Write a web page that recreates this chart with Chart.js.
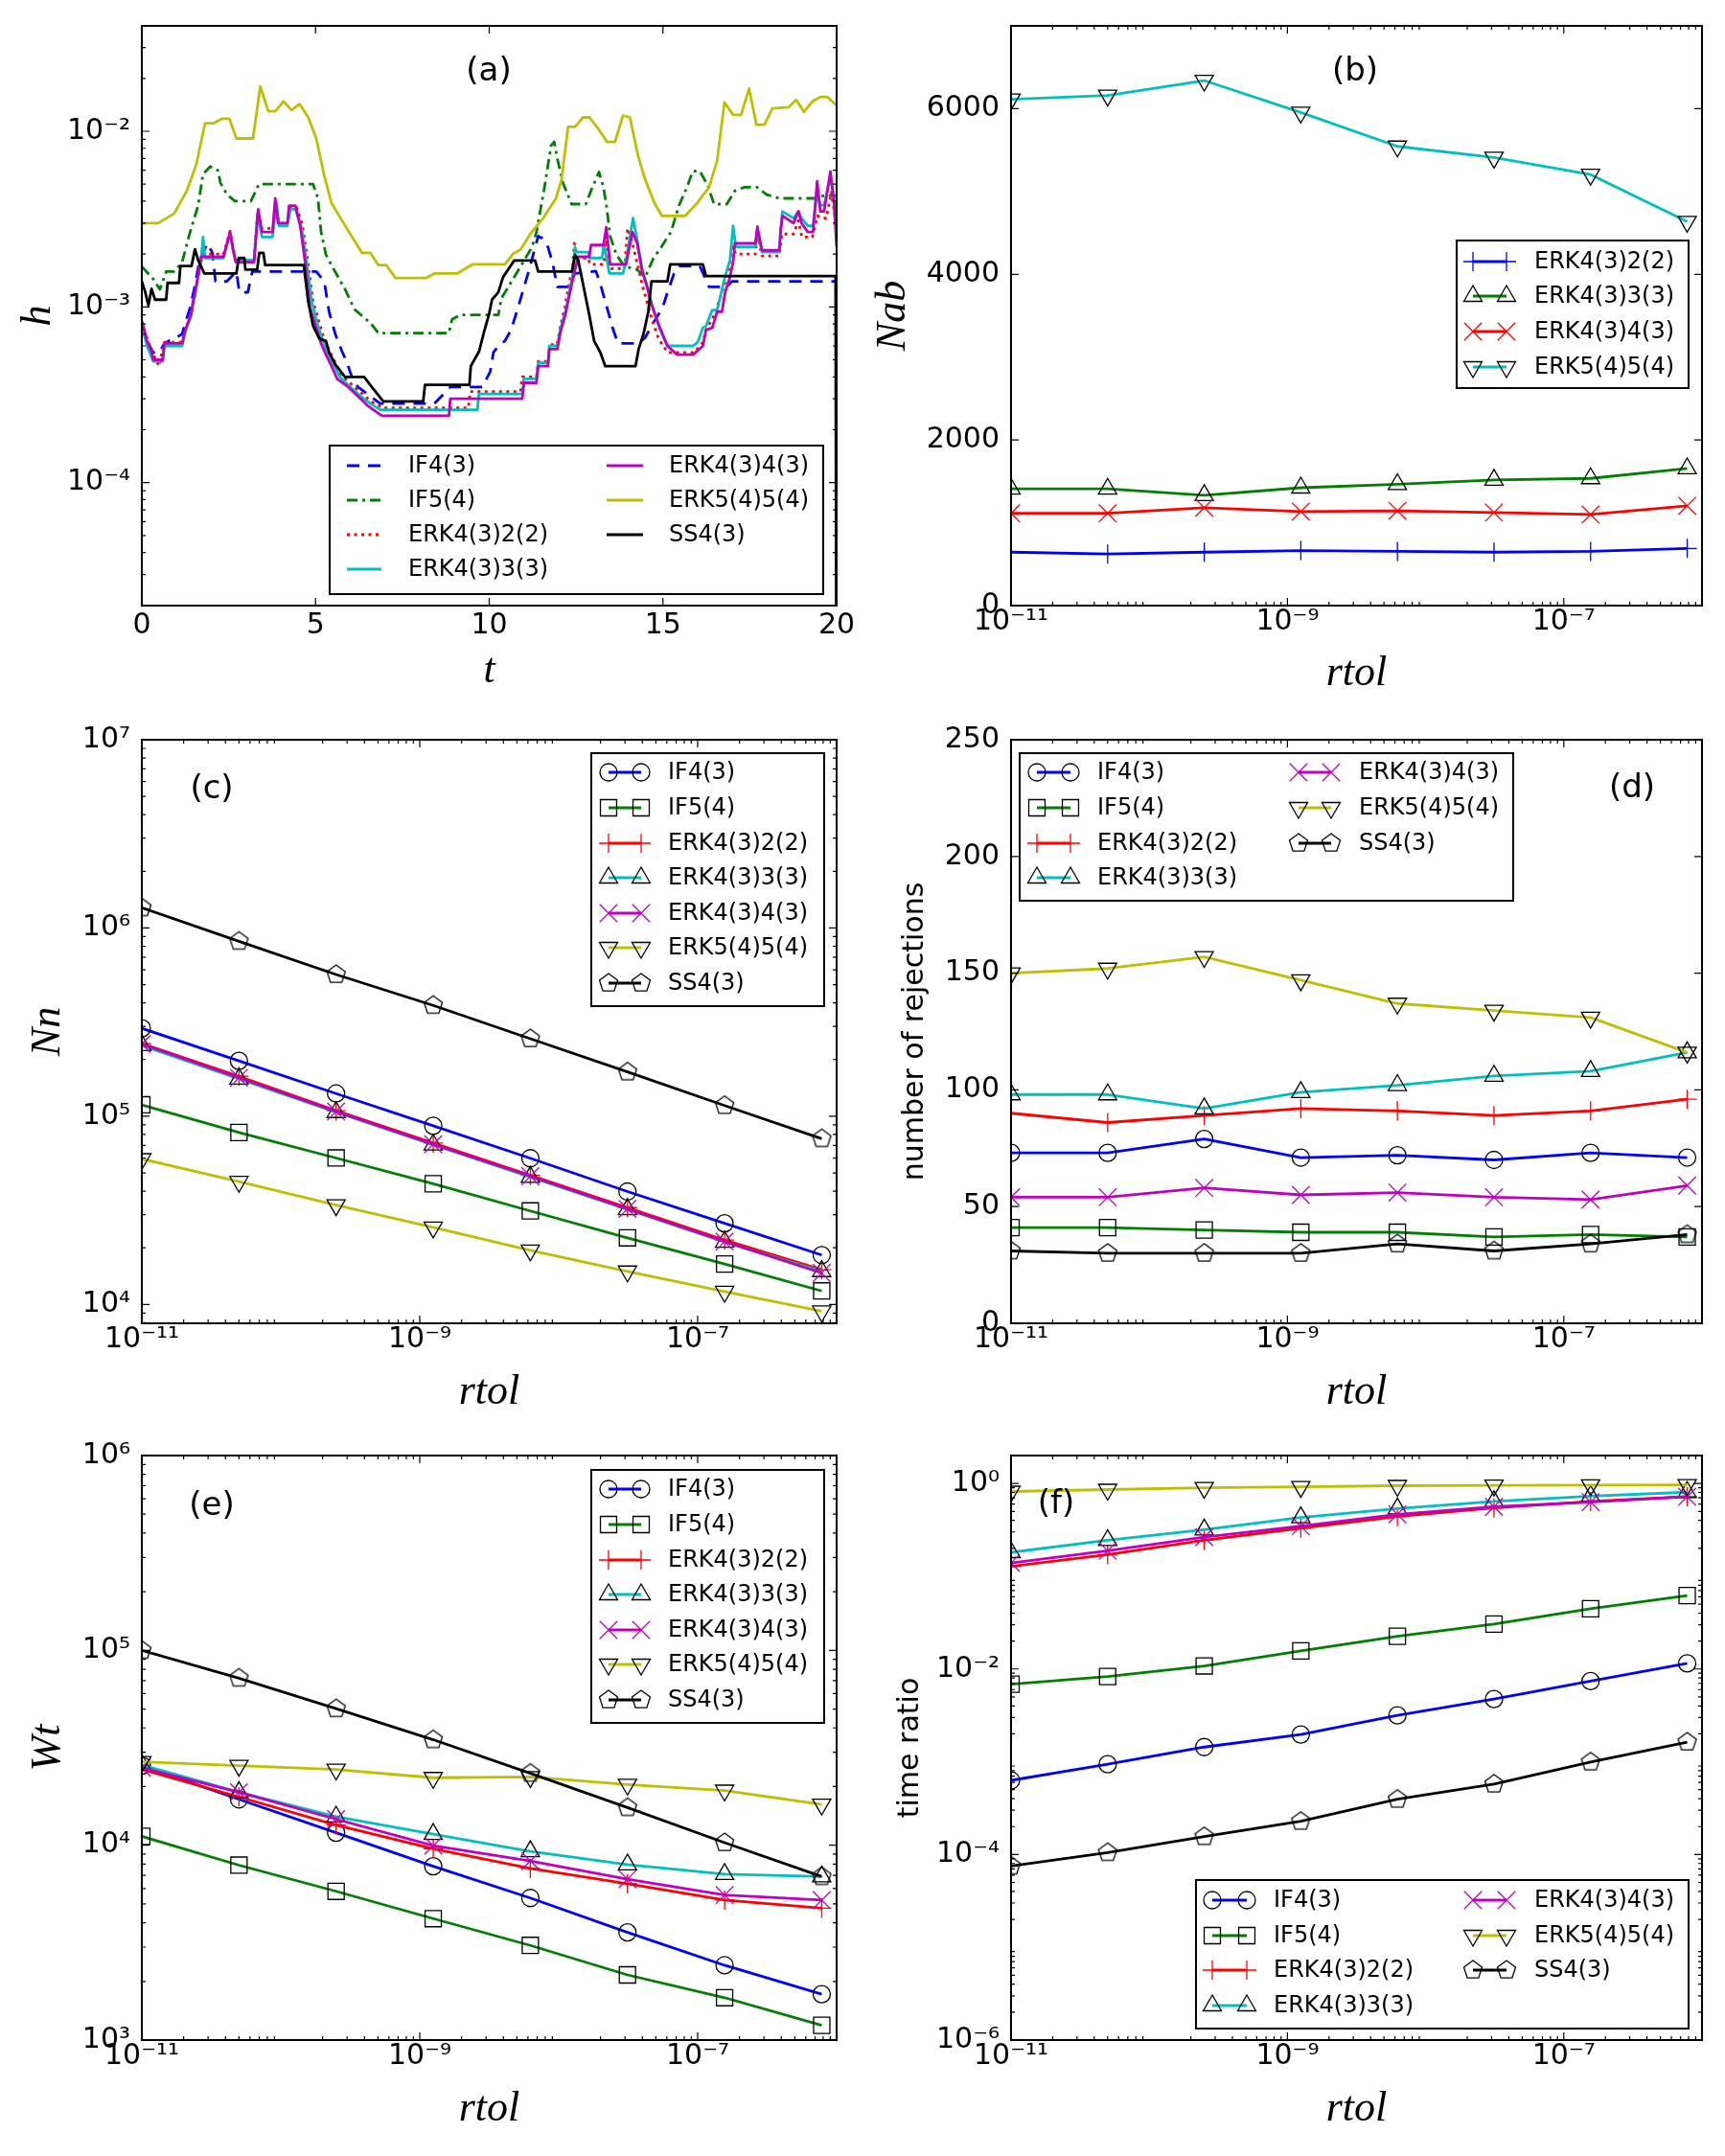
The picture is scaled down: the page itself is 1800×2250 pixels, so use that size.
<!DOCTYPE html>
<html><head><meta charset="utf-8">
<script src="https://cdn.jsdelivr.net/npm/chart.js@4.4.1/dist/chart.umd.min.js"></script>
<style>
html,body{margin:0;padding:0;background:#fff;}
body{width:1800px;height:2250px;position:relative;overflow:hidden;}
.cw{position:absolute;}
canvas{display:block;}
</style></head><body>
<div class="cw"><canvas id="ca"></canvas></div>
<div class="cw"><canvas id="cb"></canvas></div>
<div class="cw"><canvas id="cc"></canvas></div>
<div class="cw"><canvas id="cd"></canvas></div>
<div class="cw"><canvas id="ce"></canvas></div>
<div class="cw"><canvas id="cf"></canvas></div>
<script>
// ---------------- DATA ----------------
const methods = ['IF4(3)','IF5(4)','ERK4(3)2(2)','ERK4(3)3(3)','ERK4(3)4(3)','ERK5(4)5(4)','SS4(3)'];
const rtol = [1e-11, 5e-11, 2.5e-10, 1.25e-9, 6.25e-9, 3.125e-8, 1.5625e-7, 7.8125e-7];

// panel (a): step size h versus t, [t, h]
const hIF4 = [[0,8.1e-4],[0.15,6.4e-4],[0.33,5.5e-4],[0.5,5.5e-4],[0.65,6.2e-4],[1.16,7.0e-4],[1.25,8.1e-4],[1.39,9.9e-4],[1.53,1.33e-3],[1.66,1.84e-3],[1.89,2.3e-3],[2.03,2.03e-3],[2.12,1.4e-3],[2.45,1.4e-3],[2.72,1.59e-3],[2.81,1.21e-3],[3.05,1.21e-3],[3.18,1.59e-3],[5.02,1.59e-3],[5.25,1.4e-3],[5.39,9.4e-4],[5.57,7.0e-4],[5.76,5.6e-4],[5.90,4.85e-4],[6.03,4.08e-4],[6.22,3.5e-4],[6.49,3.2e-4],[6.86,2.82e-4],[8.42,2.82e-4],[8.88,3.5e-4],[9.80,3.5e-4],[10.03,4.3e-4],[10.12,5.5e-4],[10.26,6.0e-4],[10.45,6.4e-4],[10.63,7.4e-4],[10.86,1.04e-3],[11.05,1.4e-3],[11.18,1.71e-3],[11.32,2.19e-3],[11.41,2.53e-3],[11.55,2.45e-3],[11.69,2.19e-3],[11.82,1.8e-3],[11.96,1.3e-3],[12.28,1.3e-3],[12.47,1.55e-3],[13.07,1.6e-3],[13.20,1.35e-3],[13.39,9.9e-4],[13.57,7.4e-4],[13.71,6.2e-4],[14.30,6.2e-4],[14.49,6.7e-4],[14.72,8.1e-4],[14.99,9.9e-4],[15.13,1.21e-3],[15.32,1.55e-3],[15.46,1.71e-3],[16.06,1.71e-3],[16.19,1.5e-3],[16.33,1.3e-3],[16.84,1.3e-3],[16.98,1.4e-3],[20,1.4e-3]];
const hIF5 = [[0,1.7e-3],[0.33,1.44e-3],[0.52,1.26e-3],[0.70,1.59e-3],[0.93,1.59e-3],[1.16,1.8e-3],[1.39,2.67e-3],[1.62,3.77e-3],[1.76,5.7e-3],[1.97,6.3e-3],[2.19,6.0e-3],[2.26,5.1e-3],[2.45,4.36e-3],[2.68,4.0e-3],[3.14,4.0e-3],[3.37,5.0e-3],[4.93,5.0e-3],[5.07,4.15e-3],[5.16,2.67e-3],[5.30,1.98e-3],[5.53,1.63e-3],[5.85,1.26e-3],[6.12,9.7e-4],[6.58,8.1e-4],[6.81,7.1e-4],[8.84,7.1e-4],[8.93,8.5e-4],[9.16,9.0e-4],[10.26,9.0e-4],[10.35,1.12e-3],[10.58,1.33e-3],[10.91,1.71e-3],[11.23,2.19e-3],[11.36,2.67e-3],[11.59,4.8e-3],[11.78,8.3e-3],[11.87,8.7e-3],[11.96,7.0e-3],[12.12,5.1e-3],[12.37,3.85e-3],[12.78,3.85e-3],[12.97,4.8e-3],[13.16,5.86e-3],[13.29,4.8e-3],[13.39,3.58e-3],[13.48,2.53e-3],[13.66,1.98e-3],[13.89,1.71e-3],[14.26,1.63e-3],[14.49,1.48e-3],[14.72,1.88e-3],[14.95,2.19e-3],[15.23,2.67e-3],[15.46,3.77e-3],[15.69,4.8e-3],[15.86,5.93e-3],[16.06,5.93e-3],[16.29,4.93e-3],[16.47,3.85e-3],[16.84,3.85e-3],[17.07,4.58e-3],[17.34,4.8e-3],[17.71,4.8e-3],[17.99,4.36e-3],[18.35,4.15e-3],[19.36,4.15e-3],[19.64,4.3e-3],[20,4.3e-3]];
const hERK422 = [[0,8.2e-4],[0.2,6.2e-4],[0.4,5.0e-4],[0.5,4.6e-4],[0.55,5.2e-4],[0.65,6.3e-4],[1.16,6.3e-4],[1.3,7.8e-4],[1.45,9.5e-4],[1.6,1.4e-3],[1.75,2.0e-3],[2.35,2.0e-3],[2.54,2.7e-3],[2.7,1.85e-3],[3.23,1.85e-3],[3.33,3.5e-3],[3.45,2.8e-3],[3.78,2.8e-3],[3.86,4.0e-3],[3.95,3.0e-3],[4.19,3.0e-3],[4.26,3.7e-3],[4.45,3.7e-3],[4.62,2.95e-3],[4.78,1.8e-3],[4.92,1.1e-3],[5.1,8.2e-4],[5.25,6.6e-4],[5.4,5.6e-4],[5.55,4.9e-4],[5.75,4.1e-4],[6.05,3.6e-4],[6.35,3.2e-4],[6.6,2.9e-4],[6.95,2.66e-4],[9.4,2.66e-4],[9.45,3.3e-4],[10.9,3.3e-4],[10.95,4.0e-4],[11.36,4.0e-4],[11.41,4.9e-4],[11.69,4.9e-4],[11.75,6.1e-4],[11.95,6.1e-4],[12.05,7.8e-4],[12.18,1.0e-3],[12.28,1.3e-3],[12.4,1.7e-3],[12.45,2.3e-3],[12.55,1.9e-3],[12.85,1.9e-3],[12.9,1.75e-3],[13.3,1.75e-3],[13.37,2.4e-3],[13.48,1.65e-3],[13.9,1.65e-3],[13.98,2.8e-3],[14.1,2.4e-3],[14.25,1.8e-3],[14.4,1.35e-3],[14.55,1.05e-3],[14.7,8.3e-4],[14.85,6.8e-4],[15.0,6.0e-4],[15.15,5.5e-4],[15.9,5.5e-4],[16.15,6.3e-4],[16.25,7.5e-4],[16.42,8.5e-4],[16.56,1.0e-3],[16.75,1.3e-3],[16.9,1.65e-3],[17.0,2.2e-3],[17.1,2.0e-3],[17.66,2.0e-3],[17.72,2.6e-3],[17.85,1.95e-3],[18.35,1.95e-3],[18.42,2.6e-3],[18.76,2.6e-3],[18.9,3.1e-3],[19.0,2.5e-3],[19.3,2.5e-3],[19.45,3.3e-3],[19.55,3.2e-3],[19.7,3.2e-3],[19.85,4.5e-3],[19.93,3.5e-3],[20,2.6e-3]];
const hERK433 = [[0,7.8e-4],[0.15,6.0e-4],[0.33,4.9e-4],[0.60,4.9e-4],[0.65,6.0e-4],[1.16,6.0e-4],[1.25,7.2e-4],[1.41,8.8e-4],[1.57,1.3e-3],[1.71,1.9e-3],[1.76,2.5e-3],[1.82,1.9e-3],[2.35,1.9e-3],[2.54,2.6e-3],[2.63,2.1e-3],[2.70,1.85e-3],[3.23,1.85e-3],[3.33,3.4e-3],[3.46,2.5e-3],[3.76,2.5e-3],[3.88,3.9e-3],[3.95,2.9e-3],[4.19,2.9e-3],[4.28,3.6e-3],[4.42,3.6e-3],[4.60,2.8e-3],[4.75,1.75e-3],[4.90,1.05e-3],[5.07,7.8e-4],[5.22,6.4e-4],[5.35,5.5e-4],[5.50,4.8e-4],[5.70,4.0e-4],[6.0,3.5e-4],[6.3,3.1e-4],[6.6,2.8e-4],[6.86,2.6e-4],[9.66,2.6e-4],[9.70,3.2e-4],[10.95,3.2e-4],[11.0,3.9e-4],[11.36,3.9e-4],[11.41,4.8e-4],[11.69,4.8e-4],[11.73,6.0e-4],[11.96,6.0e-4],[12.05,7.5e-4],[12.2,9.5e-4],[12.3,1.2e-3],[12.42,1.6e-3],[12.47,2.2e-3],[12.5,2.05e-3],[12.85,2.05e-3],[12.89,1.9e-3],[13.25,1.9e-3],[13.30,2.3e-3],[13.46,1.55e-3],[13.85,1.55e-3],[13.95,1.9e-3],[14.14,3.2e-3],[14.26,2.4e-3],[14.40,1.65e-3],[14.55,1.3e-3],[14.70,1.0e-3],[14.86,8.0e-4],[15.0,6.8e-4],[15.13,6.0e-4],[15.87,6.0e-4],[16.0,6.3e-4],[16.15,7.6e-4],[16.24,7.8e-4],[16.42,9.6e-4],[16.56,9.6e-4],[16.70,1.25e-3],[16.79,1.5e-3],[16.93,1.85e-3],[17.02,2.9e-3],[17.1,2.2e-3],[17.66,2.2e-3],[17.72,2.75e-3],[17.85,2.05e-3],[18.35,2.05e-3],[18.39,2.8e-3],[18.44,3.5e-3],[18.76,3.2e-3],[18.90,3.5e-3],[18.99,3.2e-3],[19.17,2.9e-3],[19.32,2.9e-3],[19.44,4.5e-3],[19.53,3.8e-3],[19.64,3.8e-3],[19.82,5.5e-3],[19.92,4.2e-3],[20,2.6e-3]];
const hERK443 = [[0,8.35e-4],[0.15,6.4e-4],[0.28,5.6e-4],[0.33,5.0e-4],[0.60,5.0e-4],[0.65,6.2e-4],[1.16,6.2e-4],[1.25,7.4e-4],[1.41,9.0e-4],[1.47,1.07e-3],[1.57,1.33e-3],[1.71,1.93e-3],[2.35,1.93e-3],[2.54,2.67e-3],[2.63,2.1e-3],[2.70,1.8e-3],[3.23,1.8e-3],[3.35,3.6e-3],[3.46,2.67e-3],[3.76,2.67e-3],[3.84,4.15e-3],[3.92,3.0e-3],[4.19,3.0e-3],[4.24,3.77e-3],[4.42,3.77e-3],[4.56,2.9e-3],[4.70,1.8e-3],[4.84,9.9e-4],[5.02,7.6e-4],[5.16,6.2e-4],[5.30,5.35e-4],[5.44,4.7e-4],[5.62,3.9e-4],[5.94,3.5e-4],[6.22,3.1e-4],[6.49,2.75e-4],[6.91,2.4e-4],[8.84,2.4e-4],[8.88,3.0e-4],[10.95,3.0e-4],[11.0,3.7e-4],[11.36,3.7e-4],[11.41,4.6e-4],[11.69,4.6e-4],[11.73,5.75e-4],[11.96,5.75e-4],[12.05,7.2e-4],[12.19,9.0e-4],[12.28,1.1e-3],[12.42,1.48e-3],[12.56,1.93e-3],[12.88,1.93e-3],[12.93,2.25e-3],[13.29,2.25e-3],[13.37,2.84e-3],[13.48,1.75e-3],[13.94,1.75e-3],[14.12,2.67e-3],[14.26,2.3e-3],[14.40,1.6e-3],[14.53,1.33e-3],[14.67,1.04e-3],[14.86,8.1e-4],[14.99,7.0e-4],[15.13,6.0e-4],[15.41,5.35e-4],[15.87,5.35e-4],[16.15,6.0e-4],[16.24,7.4e-4],[16.42,7.6e-4],[16.56,9.4e-4],[16.70,9.4e-4],[16.79,1.21e-3],[16.93,1.48e-3],[17.02,1.8e-3],[17.07,2.3e-3],[17.66,2.3e-3],[17.72,2.87e-3],[17.85,2.1e-3],[18.35,2.1e-3],[18.39,2.7e-3],[18.44,3.3e-3],[18.76,3.0e-3],[18.90,3.5e-3],[18.99,3.0e-3],[19.17,2.67e-3],[19.32,2.67e-3],[19.44,5.2e-3],[19.53,3.5e-3],[19.64,3.5e-3],[19.82,5.9e-3],[19.92,4.0e-3],[20,2.2e-3]];
const hERK554 = [[0,3.0e-3],[0.47,3.0e-3],[0.93,3.4e-3],[1.30,4.6e-3],[1.57,6.5e-3],[1.82,1.11e-2],[2.06,1.11e-2],[2.31,1.18e-2],[2.52,1.18e-2],[2.72,9.1e-3],[3.20,9.1e-3],[3.41,1.8e-2],[3.64,1.3e-2],[3.84,1.3e-2],[4.08,1.48e-2],[4.31,1.32e-2],[4.54,1.43e-2],[4.79,1.2e-2],[5.02,9.1e-3],[5.25,5.6e-3],[5.46,3.9e-3],[5.90,2.8e-3],[6.34,2.03e-3],[6.58,2.03e-3],[6.81,1.73e-3],[7.04,1.73e-3],[7.30,1.46e-3],[8.17,1.46e-3],[8.42,1.55e-3],[9.07,1.55e-3],[9.53,1.75e-3],[10.45,1.75e-3],[10.68,2.0e-3],[10.91,2.13e-3],[11.18,2.6e-3],[11.55,3.2e-3],[11.92,4.15e-3],[12.08,5.3e-3],[12.27,1.06e-2],[12.47,1.06e-2],[12.70,1.2e-2],[12.88,1.2e-2],[13.13,1.04e-2],[13.39,8.7e-3],[13.62,8.7e-3],[13.85,1.23e-2],[14.05,1.2e-2],[14.28,7.3e-3],[14.49,5.3e-3],[14.77,3.85e-3],[14.97,3.3e-3],[15.64,3.3e-3],[15.96,3.85e-3],[16.33,4.8e-3],[16.56,6.8e-3],[16.77,1.46e-2],[17.02,1.24e-2],[17.25,1.24e-2],[17.48,1.75e-2],[17.69,1.09e-2],[17.92,1.09e-2],[18.15,1.35e-2],[18.61,1.37e-2],[18.84,1.51e-2],[19.06,1.29e-2],[19.32,1.49e-2],[19.55,1.57e-2],[19.73,1.57e-2],[20,1.4e-2]];
const hSS4 = [[0,1.4e-3],[0.1,1.21e-3],[0.19,1.02e-3],[0.28,1.27e-3],[0.38,1.1e-3],[0.70,1.1e-3],[0.74,1.37e-3],[1.07,1.37e-3],[1.11,1.71e-3],[1.43,1.71e-3],[1.53,2.13e-3],[1.62,1.85e-3],[1.80,1.55e-3],[2.72,1.55e-3],[2.79,1.9e-3],[2.95,1.9e-3],[2.98,1.63e-3],[3.32,1.63e-3],[3.38,2.03e-3],[3.50,2.03e-3],[3.55,1.73e-3],[4.66,1.73e-3],[4.79,1.07e-3],[4.93,7.8e-4],[5.11,6.6e-4],[5.30,6.4e-4],[5.39,5.5e-4],[5.57,4.7e-4],[5.85,4.0e-4],[6.40,4.0e-4],[6.67,3.4e-4],[6.95,2.9e-4],[8.10,2.9e-4],[8.15,3.6e-4],[9.43,3.6e-4],[9.47,4.6e-4],[9.71,5.6e-4],[9.85,7.2e-4],[9.99,9.0e-4],[10.08,1.1e-3],[10.26,1.21e-3],[10.40,1.48e-3],[10.72,1.84e-3],[11.32,1.84e-3],[11.41,1.59e-3],[12.38,1.59e-3],[12.47,1.98e-3],[12.56,1.85e-3],[12.75,1.21e-3],[12.88,9.0e-4],[13.02,6.4e-4],[13.20,5.5e-4],[13.34,4.6e-4],[14.21,4.6e-4],[14.30,5.75e-4],[14.44,7.0e-4],[14.58,9.4e-4],[14.67,1.4e-3],[15.13,1.4e-3],[15.21,1.75e-3],[16.15,1.75e-3],[16.24,1.5e-3],[19.97,1.5e-3],[20,1e-6]];

// panel (b): Nab
const nabERK422 = [645, 623, 645, 664, 655, 645, 655, 691];
const nabERK433 = [1409, 1409, 1332, 1423, 1464, 1518, 1536, 1655];
const nabERK443 = [1114, 1114, 1182, 1136, 1145, 1123, 1100, 1205];
const nabERK554 = [6114, 6160, 6340, 5955, 5545, 5410, 5205, 4636];

// panel (c): Nn
const nnIF4 = [2.93e5, 1.97e5, 1.32e5, 8.9e4, 5.98e4, 3.98e4, 2.7e4, 1.83e4];
const nnIF5 = [1.15e5, 8.2e4, 6.0e4, 4.38e4, 3.14e4, 2.26e4, 1.64e4, 1.18e4];
const nnERK422 = [2.43e5, 1.63e5, 1.07e5, 7.2e4, 4.85e4, 3.27e4, 2.2e4, 1.53e4];
const nnERK433 = [2.38e5, 1.58e5, 1.05e5, 7.05e4, 4.75e4, 3.2e4, 2.15e4, 1.5e4];
const nnERK443 = [2.42e5, 1.6e5, 1.06e5, 7.1e4, 4.8e4, 3.22e4, 2.16e4, 1.47e4];
const nnERK554 = [5.93e4, 4.49e4, 3.37e4, 2.57e4, 1.94e4, 1.5e4, 1.17e4, 9.2e3];
const nnSS4 = [1.28e6, 8.5e5, 5.66e5, 3.88e5, 2.58e5, 1.72e5, 1.14e5, 7.6e4];

// panel (d): number of rejections
const rejIF4 = [73, 73, 79, 71, 72, 70, 73, 71];
const rejIF5 = [41, 41, 40, 39, 39, 37, 38, 37];
const rejERK422 = [90, 86, 89, 92, 91, 89, 91, 96];
const rejERK433 = [98, 98, 92, 99, 102, 106, 108, 116];
const rejERK443 = [54, 54, 58, 55, 56, 54, 53, 59];
const rejERK554 = [150, 152, 157, 147, 137, 134, 131, 116];
const rejSS4 = [31, 30, 30, 30, 34, 31, 34, 38];

// panel (e): Wt
const wtIF4 = [2.56e4, 1.72e4, 1.16e4, 7.8e3, 5.36e3, 3.57e3, 2.42e3, 1.72e3];
const wtIF5 = [1.11e4, 7.9e3, 5.8e3, 4.2e3, 3.06e3, 2.16e3, 1.65e3, 1.19e3];
const wtERK422 = [2.45e4, 1.77e4, 1.27e4, 9.6e3, 7.6e3, 6.35e3, 5.23e3, 4.75e3];
const wtERK433 = [2.58e4, 1.87e4, 1.4e4, 1.14e4, 9.3e3, 7.95e3, 7.1e3, 6.9e3];
const wtERK443 = [2.5e4, 1.87e4, 1.36e4, 9.95e3, 8.3e3, 6.7e3, 5.55e3, 5.23e3];
const wtERK554 = [2.68e4, 2.56e4, 2.45e4, 2.22e4, 2.24e4, 2.05e4, 1.91e4, 1.62e4];
const wtSS4 = [1.0e5, 7.2e4, 5.02e4, 3.48e4, 2.34e4, 1.56e4, 1.03e4, 6.9e3];

// panel (f): time ratio
const trIF4 = [6.3e-4, 9.4e-4, 1.44e-3, 1.97e-3, 3.16e-3, 4.74e-3, 7.4e-3, 1.15e-2];
const trIF5 = [6.85e-3, 8.3e-3, 1.08e-2, 1.57e-2, 2.25e-2, 3.05e-2, 4.46e-2, 6.2e-2];
const trERK422 = [0.128, 0.171, 0.244, 0.33, 0.44, 0.545, 0.64, 0.72];
const trERK433 = [0.181, 0.244, 0.318, 0.43, 0.536, 0.64, 0.73, 0.805];
const trERK443 = [0.139, 0.188, 0.264, 0.347, 0.465, 0.56, 0.63, 0.72];
const trERK554 = [0.82, 0.86, 0.90, 0.92, 0.945, 0.953, 0.96, 0.965];
const trSS4 = [7.5e-5, 1.05e-4, 1.56e-4, 2.28e-4, 3.94e-4, 5.75e-4, 9.95e-4, 1.63e-3];

// tick values
const tTicks = [0, 5, 10, 15, 20];
const hTicks = [1e-4, 1e-3, 1e-2];
const rtolTicks = [1e-11, 1e-9, 1e-7];
const nabTicks = [0, 2000, 4000, 6000];
const nnTicks = [1e4, 1e5, 1e6, 1e7];
const rejTicks = [0, 50, 100, 150, 200, 250];
const wtTicks = [1e3, 1e4, 1e5, 1e6];
const trTicks = [1e-6, 1e-4, 1e-2, 1];

// ---------------- STYLE ----------------
const COL = {b:'#0000ff', g:'#008000', r:'#ff0000', c:'#00bfbf', m:'#bf00bf', y:'#bfbf00', k:'#000000'};
const R = {circle:9, rect:12, tri:11, triDown:11, cross:10, crossRot:13, penta:10};
const SUP = {'0':'⁰','1':'¹','2':'²','3':'³','4':'⁴','5':'⁵','6':'⁶','7':'⁷','8':'⁸','9':'⁹','-':'⁻'};
const pow10 = v => '10' + String(Math.round(Math.log10(v))).split('').map(c => SUP[c]).join('');
const MATH = {family:'"Liberation Serif", "DejaVu Serif", serif', style:'italic', size:44, lineHeight:1};
const SANS30 = {family:'"DejaVu Sans", sans-serif', size:30, lineHeight:1};

function pentaCanvas() {
  const r = R.penta, s = 2 * r + 6;
  const c = document.createElement('canvas'); c.width = s; c.height = s;
  const g = c.getContext('2d');
  g.beginPath();
  for (let i = 0; i < 5; i++) {
    const a = -Math.PI / 2 + i * 2 * Math.PI / 5;
    const px = s / 2 + r * Math.cos(a), py = s / 2 + r * Math.sin(a);
    i ? g.lineTo(px, py) : g.moveTo(px, py);
  }
  g.closePath(); g.lineWidth = 1.3; g.strokeStyle = '#000'; g.stroke();
  return c;
}
const PENTA = pentaCanvas();

function markPath(ctx, m, x, y) {
  ctx.beginPath();
  if (m === 'circle') ctx.arc(x, y, R.circle, 0, 2 * Math.PI);
  else if (m === 'rect') { const h = R.rect * Math.SQRT1_2; ctx.rect(x - h, y - h, 2 * h, 2 * h); }
  else if (m === 'tri' || m === 'triDown') {
    let a = m === 'tri' ? 0 : Math.PI;
    for (let k = 0; k < 3; k++) { const px = x + Math.sin(a) * R.tri, py = y - Math.cos(a) * R.tri; k ? ctx.lineTo(px, py) : ctx.moveTo(px, py); a += 2 * Math.PI / 3; }
    ctx.closePath();
  } else if (m === 'cross') { ctx.moveTo(x - R.cross, y); ctx.lineTo(x + R.cross, y); ctx.moveTo(x, y - R.cross); ctx.lineTo(x, y + R.cross); }
  else if (m === 'crossRot') { const d = R.crossRot * Math.SQRT1_2; ctx.moveTo(x - d, y - d); ctx.lineTo(x + d, y + d); ctx.moveTo(x - d, y + d); ctx.lineTo(x + d, y - d); }
  else if (m === 'penta') {
    for (let i = 0; i < 5; i++) { const a = -Math.PI / 2 + i * 2 * Math.PI / 5; const px = x + R.penta * Math.cos(a), py = y + R.penta * Math.sin(a); i ? ctx.lineTo(px, py) : ctx.moveTo(px, py); }
    ctx.closePath();
  }
}

function markerDataset(label, values, color, m, idx, n) {
  const lineMark = (m === 'cross' || m === 'crossRot');
  const ds = {
    label, data: values.map((v, i) => ({x: rtol[i], y: v})),
    borderColor: color, borderWidth: 2.8, fill: false, tension: 0, clip: 0,
    borderJoinStyle: 'round',
    pointRadius: R[m], pointHoverRadius: R[m], pointBorderWidth: 1.3,
    pointBorderColor: lineMark ? color : '#000', pointBackgroundColor: 'rgba(0,0,0,0)',
    pointStyle: m === 'circle' ? 'circle' : m === 'rect' ? 'rect' : (m === 'tri' || m === 'triDown') ? 'triangle' : m === 'penta' ? PENTA : m,
    pointRotation: m === 'triDown' ? 180 : 0,
    order: n - idx, _mk: m
  };
  return ds;
}

function minorLog(min, max) {
  const out = [];
  for (let d = Math.floor(Math.log10(min)) - 1; d <= Math.ceil(Math.log10(max)); d++)
    for (let k = 2; k <= 9; k++) { const v = k * Math.pow(10, d); if (v >= min * 0.999 && v <= max * 1.001) out.push(v); }
  return out;
}

function axis(type, min, max, ticks, fmt, title, tfont, tpadTop, tpadBottom, tickPad) {
  return {
    type, min, max, bounds: 'data',
    grid: {display: false, drawTicks: false},
    border: {display: false},
    afterBuildTicks: s => { s.ticks = ticks.map(v => ({value: v})); },
    ticks: {autoSkip: false, maxRotation: 0, minRotation: 0, padding: tickPad, color: '#000', font: SANS30, callback: fmt},
    title: {display: true, text: title, color: '#000', font: tfont, padding: {top: tpadTop, bottom: tpadBottom}}
  };
}

const DECOR = {};
function drawLegend(ctx, L, ox, oy) {
  ctx.save();
  const [x1, y1, x2, y2] = L.box;
  ctx.fillStyle = '#fff'; ctx.fillRect(x1 - ox, y1 - oy, x2 - x1, y2 - y1);
  ctx.lineWidth = 2; ctx.strokeStyle = '#000'; ctx.setLineDash([]);
  ctx.strokeRect(x1 - ox, y1 - oy, x2 - x1, y2 - y1);
  ctx.font = '24px "DejaVu Sans", sans-serif'; ctx.textAlign = 'left'; ctx.textBaseline = 'middle';
  L.items.forEach((it, i) => {
    const col = L.cols[Math.floor(i / L.rows.length)], y = L.rows[i % L.rows.length] - oy;
    const a = col.m1 - ox, b = col.m2 - ox;
    ctx.save();
    ctx.strokeStyle = it.color; ctx.lineWidth = 2.8; ctx.lineCap = it.dash ? 'butt' : 'butt';
    ctx.setLineDash(it.dash || []);
    ctx.beginPath(); ctx.moveTo(a, y); ctx.lineTo(b, y); ctx.stroke();
    ctx.restore();
    if (it.mk) {
      ctx.save(); ctx.lineWidth = 1.3; ctx.setLineDash([]);
      ctx.strokeStyle = (it.mk === 'cross' || it.mk === 'crossRot') ? it.color : '#000';
      markPath(ctx, it.mk, a, y); ctx.stroke();
      markPath(ctx, it.mk, b, y); ctx.stroke();
      ctx.restore();
    }
    ctx.fillStyle = '#000'; ctx.fillText(it.label, col.tx - ox, y + 1);
  });
  ctx.restore();
}

const decorPlugin = {
  id: 'decor',
  afterDatasetsDraw(chart) {
    const D = DECOR[chart.canvas.id]; if (!D) return;
    const ctx = chart.ctx, a = chart.chartArea, sx = chart.scales.x, sy = chart.scales.y;
    ctx.save();
    ctx.strokeStyle = '#000'; ctx.lineWidth = 1.2; ctx.setLineDash([]);
    const tx = (vals, len) => { ctx.beginPath(); vals.forEach(v => { const p = sx.getPixelForValue(v); if (p < a.left - 1 || p > a.right + 1) return; ctx.moveTo(p, a.bottom); ctx.lineTo(p, a.bottom - len); ctx.moveTo(p, a.top); ctx.lineTo(p, a.top + len); }); ctx.stroke(); };
    const ty = (vals, len) => { ctx.beginPath(); vals.forEach(v => { const p = sy.getPixelForValue(v); if (p < a.top - 1 || p > a.bottom + 1) return; ctx.moveTo(a.left, p); ctx.lineTo(a.left + len, p); ctx.moveTo(a.right, p); ctx.lineTo(a.right - len, p); }); ctx.stroke(); };
    tx(D.xMajor, 8); tx(D.xMinor, 4); ty(D.yMajor, 8); ty(D.yMinor, 4);
    ctx.lineWidth = 2; ctx.strokeRect(a.left, a.top, a.right - a.left, a.bottom - a.top);
    ctx.fillStyle = '#000'; ctx.font = '34px "DejaVu Sans", sans-serif'; ctx.textAlign = 'center'; ctx.textBaseline = 'middle';
    ctx.fillText(D.tag, D.tagX - D.ox, D.tagY - D.oy);
    if (D.legend) drawLegend(ctx, D.legend, D.ox, D.oy);
    ctx.restore();
  }
};

function buildPanel(id, g, xs, ys, datasets, decor) {
  const cv = document.getElementById(id);
  cv.width = g.w; cv.height = g.h;
  cv.parentElement.style.cssText = 'position:absolute;left:' + g.x + 'px;top:' + g.y + 'px;width:' + g.w + 'px;height:' + g.h + 'px';
  const A = {l: g.al - g.x, t: g.at - g.y, r: g.ar - g.x, b: g.ab - g.y};
  DECOR[id] = Object.assign({ox: g.x, oy: g.y}, decor);
  xs.position = 'bottom'; xs.afterFit = s => { s.height = g.h - A.b; };
  ys.position = 'left'; ys.afterFit = s => { s.width = A.l; };
  new Chart(cv, {
    type: 'line',
    data: {datasets},
    options: {
      responsive: false, animation: false, events: [], devicePixelRatio: 1,
      layout: {padding: {left: 0, top: A.t, right: g.w - A.r, bottom: 0}},
      plugins: {legend: {display: false}, tooltip: {enabled: false}},
      scales: {x: xs, y: ys}
    },
    plugins: [decorPlugin]
  });
}

// ---------------- PANEL (a) ----------------
(function () {
  const series = [hIF4, hIF5, hERK422, hERK433, hERK443, hERK554, hSS4];
  const sty = [
    {c: COL.b, dash: [13, 9]}, {c: COL.g, dash: [11, 5, 3, 5]}, {c: COL.r, dash: [3, 4.5]},
    {c: COL.c}, {c: COL.m}, {c: COL.y}, {c: COL.k}
  ];
  const ds = series.map((s, i) => ({
    label: methods[i], data: s.map(p => ({x: p[0], y: p[1]})),
    borderColor: sty[i].c, borderWidth: 2.8, borderDash: sty[i].dash || [], borderCapStyle: 'butt',
    borderJoinStyle: 'round', pointRadius: 0, fill: false, tension: 0, clip: 0, order: 10 - i
  }));
  const ymin = Math.pow(10, -4.7), ymax = Math.pow(10, -1.4);
  buildPanel('ca', {x: 0, y: 0, w: 900, h: 740, al: 148, at: 25, ar: 873, ab: 632},
    axis('linear', 0, 20, tTicks, v => String(v), 't', MATH, 18, 18, 6),
    axis('logarithmic', ymin, ymax, hTicks, pow10, 'h', MATH, 18, 18, 12),
    ds,
    {xMajor: tTicks, xMinor: [], yMajor: hTicks, yMinor: minorLog(ymin, ymax), tag: '(a)', tagX: 510, tagY: 75,
     legend: {box: [344, 465, 859, 620], rows: [486, 522, 558, 594],
              cols: [{m1: 362, m2: 398, tx: 426}, {m1: 633, m2: 671, tx: 698}],
              items: methods.map((m, i) => ({label: m, color: sty[i].c, dash: sty[i].dash}))}});
})();

// ---------------- common for rtol panels ----------------
const rtolMinor = minorLog(1e-11, 1e-6);
const STY7 = [
  {c: COL.b, mk: 'circle'}, {c: COL.g, mk: 'rect'}, {c: COL.r, mk: 'cross'}, {c: COL.c, mk: 'tri'},
  {c: COL.m, mk: 'crossRot'}, {c: COL.y, mk: 'triDown'}, {c: COL.k, mk: 'penta'}
];
function sevenSets(arrs) { return arrs.map((v, i) => markerDataset(methods[i], v, STY7[i].c, STY7[i].mk, i, 10)); }
function legend7(box, rows, cols) {
  return {box, rows, cols, items: methods.map((m, i) => ({label: m, color: STY7[i].c, mk: STY7[i].mk}))};
}

// ---------------- PANEL (b) ----------------
(function () {
  const names = methods.slice(2, 6);
  const vals = [nabERK422, nabERK433, nabERK443, nabERK554];
  const sty = [{c: COL.b, mk: 'cross'}, {c: COL.g, mk: 'tri'}, {c: COL.r, mk: 'crossRot'}, {c: COL.c, mk: 'triDown'}];
  const ds = vals.map((v, i) => markerDataset(names[i], v, sty[i].c, sty[i].mk, i, 10));
  buildPanel('cb', {x: 900, y: 0, w: 900, h: 740, al: 1055, at: 25, ar: 1776, ab: 632},
    axis('logarithmic', 1e-11, 1e-6, rtolTicks, pow10, 'rtol', MATH, 15, 15, 2),
    axis('linear', 0, 7000, nabTicks, v => String(v), 'Nab', MATH, 10, 10, 12),
    ds,
    {xMajor: rtolTicks, xMinor: rtolMinor, yMajor: nabTicks, yMinor: [], tag: '(b)', tagX: 1414, tagY: 75,
     legend: {box: [1520, 251, 1762, 405], rows: [273, 309, 346, 383], cols: [{m1: 1537, m2: 1572, tx: 1601}],
              items: names.map((m, i) => ({label: m, color: sty[i].c, mk: sty[i].mk}))}});
})();

// ---------------- PANEL (c) ----------------
(function () {
  const ymin = 7943, ymax = 1e7;
  buildPanel('cc', {x: 0, y: 740, w: 900, h: 745, al: 148, at: 772, ar: 873, ab: 1381},
    axis('logarithmic', 1e-11, 1e-6, rtolTicks, pow10, 'rtol', MATH, 10, 10, 2),
    axis('logarithmic', ymin, ymax, nnTicks, pow10, 'Nn', MATH, 28, 28, 12),
    sevenSets([nnIF4, nnIF5, nnERK422, nnERK433, nnERK443, nnERK554, nnSS4]),
    {xMajor: rtolTicks, xMinor: rtolMinor, yMajor: nnTicks, yMinor: minorLog(ymin, ymax), tag: '(c)', tagX: 221, tagY: 824,
     legend: legend7([617, 786, 860, 1050], [806, 843, 880, 916, 953, 989, 1026], [{m1: 635, m2: 669, tx: 697}])});
})();

// ---------------- PANEL (d) ----------------
(function () {
  buildPanel('cd', {x: 900, y: 740, w: 900, h: 745, al: 1055, at: 772, ar: 1776, ab: 1381},
    axis('logarithmic', 1e-11, 1e-6, rtolTicks, pow10, 'rtol', MATH, 10, 10, 2),
    axis('linear', 0, 250, rejTicks, v => String(v), 'number of rejections', SANS30, 40, 40, 12),
    sevenSets([rejIF4, rejIF5, rejERK422, rejERK433, rejERK443, rejERK554, rejSS4]),
    {xMajor: rtolTicks, xMinor: rtolMinor, yMajor: rejTicks, yMinor: [], tag: '(d)', tagX: 1703, tagY: 823,
     legend: legend7([1064, 786, 1579, 940], [806, 843, 880, 916], [{m1: 1082, m2: 1117, tx: 1145}, {m1: 1355, m2: 1389, tx: 1418}])});
})();

// ---------------- PANEL (e) ----------------
(function () {
  buildPanel('ce', {x: 0, y: 1485, w: 900, h: 765, al: 148, at: 1519, ar: 873, ab: 2129},
    axis('logarithmic', 1e-11, 1e-6, rtolTicks, pow10, 'rtol', MATH, 27, 27, 2),
    axis('logarithmic', 1e3, 1e6, wtTicks, pow10, 'Wt', MATH, 28, 28, 12),
    sevenSets([wtIF4, wtIF5, wtERK422, wtERK433, wtERK443, wtERK554, wtSS4]),
    {xMajor: rtolTicks, xMinor: rtolMinor, yMajor: wtTicks, yMinor: minorLog(1e3, 1e6), tag: '(e)', tagX: 221, tagY: 1572,
     legend: legend7([617, 1534, 860, 1798], [1554, 1591, 1628, 1664, 1701, 1737, 1774], [{m1: 635, m2: 669, tx: 697}])});
})();

// ---------------- PANEL (f) ----------------
(function () {
  buildPanel('cf', {x: 900, y: 1485, w: 900, h: 765, al: 1055, at: 1519, ar: 1776, ab: 2129},
    axis('logarithmic', 1e-11, 1e-6, rtolTicks, pow10, 'rtol', MATH, 27, 27, 2),
    axis('logarithmic', 1e-6, 2, trTicks, pow10, 'time ratio', SANS30, 35, 35, 12),
    sevenSets([trIF4, trIF5, trERK422, trERK433, trERK443, trERK554, trSS4]),
    {xMajor: rtolTicks, xMinor: rtolMinor, yMajor: trTicks, yMinor: minorLog(1e-6, 2), tag: '(f)', tagX: 1102, tagY: 1570,
     legend: legend7([1248, 1962, 1762, 2117], [1983, 2020, 2056, 2093], [{m1: 1265, m2: 1301, tx: 1329}, {m1: 1537, m2: 1572, tx: 1601}])});
})();
</script>
</body></html>
